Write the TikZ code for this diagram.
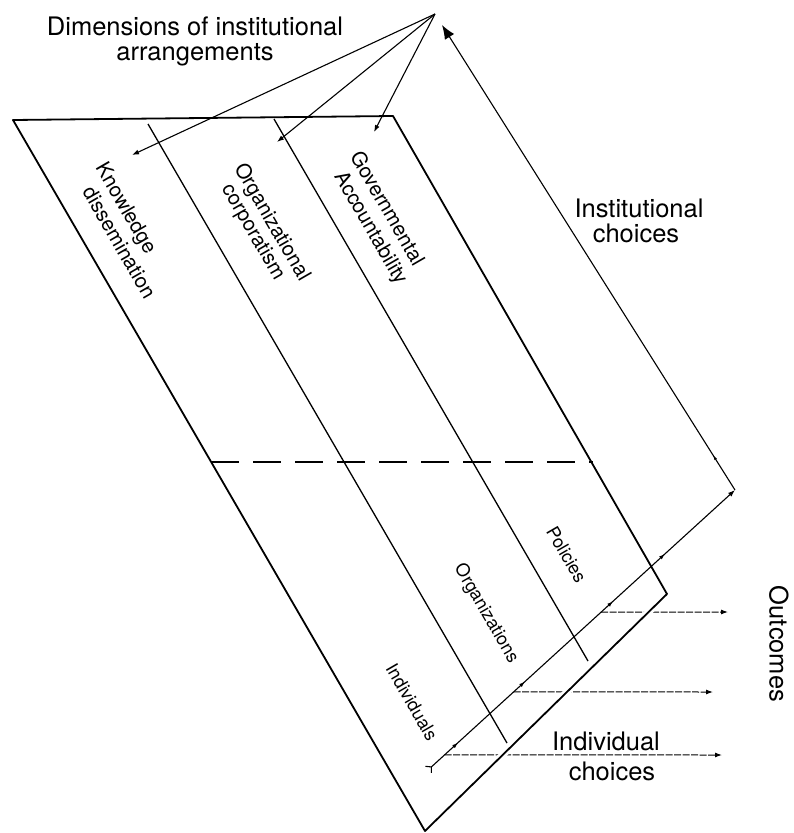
\documentclass[tikz,border=0pt]{standalone}
\usepackage{fontspec}
\setmainfont{TeX Gyre Heros}
\usetikzlibrary{arrows.meta,decorations.markings,calc}
\begin{document}
\begin{tikzpicture}[x=1pt,y=-1pt,
  outline/.style={line width=1.8pt, line join=round},
  divider/.style={line width=1.3pt},
  conn/.style={line width=1.1pt},
  smalltip/.style={-{Latex[length=7pt,width=5pt]}},
  outarrow/.style={line width=1pt, dash pattern=on 7pt off 1.5pt, -{Latex[length=7pt,width=5pt]}},
  biglabel/.style={font=\fontsize{25.5}{25}\selectfont, inner sep=0pt},
  collabel/.style={font=\fontsize{20.5}{21}\selectfont, inner sep=0pt, rotate=-60},
  rowlabel/.style={font=\fontsize{18}{18}\selectfont, inner sep=0pt, rotate=-60},
  midarrows/.style={postaction={decorate}, decoration={markings,
     mark=at position 0.098 with {\arrow{Latex[length=6pt,width=4pt]}},
     mark=at position 0.316 with {\arrow{Latex[length=6pt,width=4pt]}},
     mark=at position 0.603 with {\arrow{Latex[length=6pt,width=4pt]}},
     mark=at position 0.772 with {\arrow{Latex[length=6pt,width=4pt]}}}},
]
\useasboundingbox (0,0) rectangle (794,833);
% plane corners
\coordinate (TL) at (13,120);
\coordinate (TR) at (393,116);
\coordinate (BR) at (667,594);
\coordinate (BL) at (425,831);
% dividers
\coordinate (L1top) at (148,124);
\coordinate (L1bot) at (507,743);
\coordinate (L2top) at (274,119);
\coordinate (L2bot) at (588,661);
\coordinate (DL) at (211,462);
\coordinate (DR) at (593,462);
% apex and dimension arrows
\coordinate (apex) at (435,14);
\coordinate (kend) at (132,155);
\coordinate (oend) at (277,142);
\coordinate (gend) at (374,132);
% choices loop
\coordinate (start) at (428,770);
\coordinate (corner) at (735,490);
\coordinate (inst) at (442,25);
% outcomes
\coordinate (s1) at ($(start)!0.564!(corner)$);
\coordinate (s2) at ($(start)!0.279!(corner)$);
\coordinate (s3) at ($(start)!0.054!(corner)$);
\coordinate (e1) at (728,612);
\coordinate (e2) at (713,692);
\coordinate (e3) at (722,755);

% dividers and dashed line
\draw[divider] (L1top) -- (L1bot);
\draw[divider] (L2top) -- (L2bot);
\draw[divider, dash pattern=on 28pt off 14pt] (DL) -- (DR);

% outcome arrows
\draw[outarrow] (s1) -- (e1);
\draw[outarrow] (s2) -- (e2);
\draw[outarrow] (s3) -- (e3);
% gap where they pass the plane edge
\draw[white, line width=7pt] ($(BR)!0.04!(BL)$) -- ($(BR)!0.75!(BL)$);

% plane outline
\draw[outline] (TL) -- (TR) -- (BR) -- (BL) -- cycle;

% dimension arrows
\draw[conn, smalltip] (apex) -- (kend);
\draw[conn, smalltip] (apex) -- (oend);
\draw[conn, smalltip] (apex) -- (gend);

% individual choices and institutional choices
\draw[conn, midarrows, {Straight Barb[reversed,length=4pt,width=9pt]}-{Latex[length=7pt,width=5pt]}] (start) -- (corner);
\draw[conn, -{Latex[length=14pt,width=11pt]},
  postaction={decorate}, decoration={markings, mark=at position 0.075 with {\arrow{Latex[length=5pt,width=3pt]}}}] (corner) -- (inst);

% labels
\node[biglabel, anchor=base] (dim1) at (195,35) {Dimensions of institutional};
\node[biglabel, anchor=base] (dim2) at (195,60) {arrangements};
\node[biglabel, anchor=base] (ic1) at (639,217) {Institutional};
\node[biglabel, anchor=base] (ic2) at (636,242) {choices};
\node[biglabel, anchor=base] (ind1) at (606,750) {Individual};
\node[biglabel, anchor=base] (ind2) at (612,780) {choices};
\node[biglabel, rotate=-90] (out) at (779,644) {Outcomes};

\node[collabel] (kd1) at (125,209) {Knowledge};
\node[collabel] (kd2) at (119.5,242.5) {dissemination};
\node[collabel] (oc1) at (271.5,222.5) {Organizational};
\node[collabel] (oc2) at (252.5,232.5) {corporatism};
\node[collabel] (ga1) at (388,208) {Governmental};
\node[collabel] (ga2) at (370,228.5) {Accountability};

\node[rowlabel] (r1) at (412,702) {Individuals};
\node[rowlabel] (r2) at (486,613.5) {Organizations};
\node[rowlabel] (r3) at (566.5,554.5) {Policies};
\end{tikzpicture}
\end{document}
